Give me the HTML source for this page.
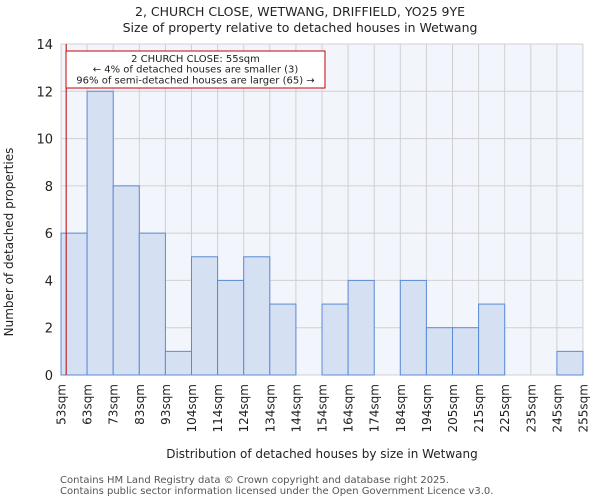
<!DOCTYPE html>
<html><head><meta charset="utf-8"><style>
body{margin:0;background:#fff;font-family:"DejaVu Sans","Liberation Sans",sans-serif}
svg text{font-family:"DejaVu Sans","Liberation Sans",sans-serif}
</style></head><body>
<svg id="chart" width="600" height="500" xmlns="http://www.w3.org/2000/svg">
<text x="300" y="16" text-anchor="middle" font-size="12.5" fill="#222">2, CHURCH CLOSE, WETWANG, DRIFFIELD, YO25 9YE</text>
<text x="300" y="32" text-anchor="middle" font-size="12.5" fill="#222">Size of property relative to detached houses in Wetwang</text>
<rect x="61" y="44" width="522" height="331" fill="#f2f5fc"/>
<g id="grid"></g><g id="bars"></g><g id="axes"></g>
<text transform="translate(13,242) rotate(-90)" text-anchor="middle" font-size="12" fill="#222">Number of detached properties</text>
<text x="322" y="458" text-anchor="middle" font-size="12" fill="#222">Distribution of detached houses by size in Wetwang</text>
<text x="60" y="483" font-size="10" fill="#555">Contains HM Land Registry data © Crown copyright and database right 2025.</text>
<text x="60" y="494" font-size="10" fill="#555">Contains public sector information licensed under the Open Government Licence v3.0.</text>
</svg>
<script>
const binLabels=["53sqm","63sqm","73sqm","83sqm","93sqm","104sqm","114sqm","124sqm","134sqm","144sqm","154sqm","164sqm","174sqm","184sqm","194sqm","205sqm","215sqm","225sqm","235sqm","245sqm","255sqm"];
const counts=[6,12,8,6,1,5,4,5,3,0,3,4,0,4,2,2,3,0,0,1];
const yTicks=[0,2,4,6,8,10,12,14];
const markerValue=55;
const binStart=53, binStep=10.1;
const NS="http://www.w3.org/2000/svg";
const L=61,R=583,T=44,B=375,yMax=14;
const bw=(R-L)/counts.length;
const xs=i=>L+i*bw;
const ys=v=>B-(v/yMax)*(B-T);
function mk(tag,attrs,parent){const e=document.createElementNS(NS,tag);for(const k in attrs)e.setAttribute(k,attrs[k]);parent.appendChild(e);return e;}
const grid=document.getElementById('grid'),bars=document.getElementById('bars'),axes=document.getElementById('axes');
yTicks.forEach(t=>{
 const l=mk('line',{x1:L,x2:R,y1:ys(t),y2:ys(t),stroke:'#d0d0d0','stroke-width':1},grid);
 
 
 const tx=mk('text',{x:L-8,y:ys(t)+5,'text-anchor':'end','font-size':13,fill:'#222'},axes);
 tx.textContent=t;
 
 
});
binLabels.forEach((b,i)=>{
 const l=mk('line',{x1:xs(i),x2:xs(i),y1:T,y2:B,stroke:'#d0d0d0','stroke-width':1},grid);
 
 
 const x=xs(i);
 const tx=mk('text',{transform:`translate(${x+4.5},384) rotate(-90)`,'text-anchor':'end','font-size':12,fill:'#222'},axes);
 tx.textContent=b;
 
 
});
counts.forEach((c,i)=>{
 if(c<=0)return;
 const r=mk('rect',{x:xs(i),y:ys(c),width:bw,height:B-ys(c),fill:'#d6e0f3',stroke:'#5b8bd6','stroke-width':1},bars);
 
 
});
const mx=L+(markerValue-binStart)/binStep*bw;
const ml=mk('line',{x1:mx,x2:mx,y1:T,y2:B,stroke:'#bb0000','stroke-width':1},axes);


const box=mk('rect',{x:66,y:51,width:259,height:37,fill:'#fff',stroke:'#cc0000','stroke-width':1},axes);


["2 CHURCH CLOSE: 55sqm","← 4% of detached houses are smaller (3)","96% of semi-detached houses are larger (65) →"].forEach((s,k)=>{
 const t=mk('text',{x:195.5,y:62+k*10.7,'text-anchor':'middle','font-size':10,fill:'#222'},axes);
 t.textContent=s;
 
 
});
</script>
</body></html>
